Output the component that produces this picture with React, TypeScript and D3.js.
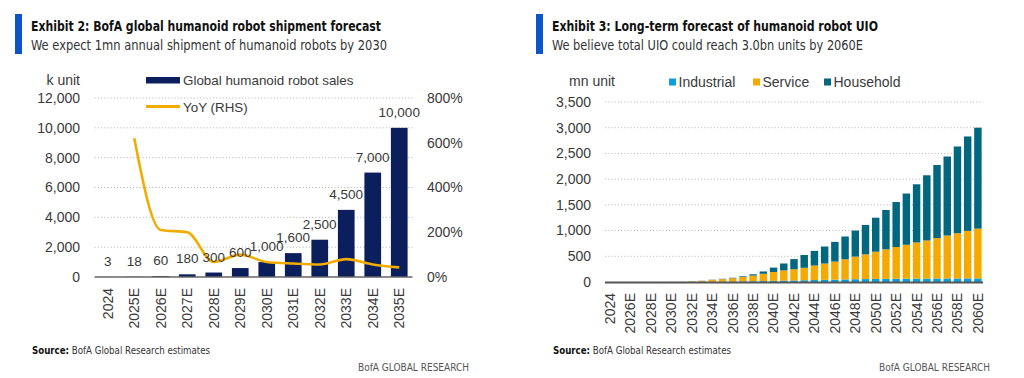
import React from 'react';
import * as d3 from 'd3';

// ---------- Left chart data ----------
const shipCategories = ['2024', '2025E', '2026E', '2027E', '2028E', '2029E', '2030E', '2031E', '2032E', '2033E', '2034E', '2035E'];
const shipmentValues = [3, 18, 60, 180, 300, 600, 1000, 1600, 2500, 4500, 7000, 10000];
const yoyValues: (number | null)[] = [null, 620, 210, 200, 67, 100, 67, 60, 56, 80, 56, 43];
const leftTicks = [0, 2000, 4000, 6000, 8000, 10000, 12000];
const rightTicks = [0, 200, 400, 600, 800];

// ---------- Right chart data ----------
const uioYears = ['2024', '2025E', '2026E', '2027E', '2028E', '2029E', '2030E', '2031E', '2032E', '2033E', '2034E', '2035E', '2036E', '2037E', '2038E', '2039E', '2040E', '2041E', '2042E', '2043E', '2044E', '2045E', '2046E', '2047E', '2048E', '2049E', '2050E', '2051E', '2052E', '2053E', '2054E', '2055E', '2056E', '2057E', '2058E', '2059E', '2060E'];
const industrial = [0, 0, 0, 0.1, 0.2, 0.4, 0.7, 1.2, 2, 3, 5, 7, 9, 12, 15, 18, 22, 26, 30, 34, 38, 42, 46, 50, 54, 57, 60, 62, 64, 65, 66, 67, 68, 68, 69, 70, 70];
const service = [0, 0, 0, 0.2, 0.4, 0.8, 1.4, 2.5, 9, 20, 36, 49, 64, 84, 110, 142, 173, 199, 218, 242, 282, 317, 351, 392, 440, 481, 530, 573, 616, 659, 703, 741, 785, 836, 880, 924, 968];
const household = [0, 0, 0, 0, 0, 0, 0.1, 0.3, 1, 2, 4, 6, 9, 14, 25, 45, 85, 135, 197, 249, 285, 331, 383, 443, 506, 572, 660, 765, 875, 996, 1131, 1267, 1422, 1536, 1686, 1836, 1962];
const uioTicks = [0, 500, 1000, 1500, 2000, 2500, 3000, 3500];
const uioSeriesNames = ['Industrial', 'Service', 'Household'];

const NAVY = '#0B1F5C';
const GOLD = '#F2AC00';
const C_IND = '#0A9FDB';
const C_SVC = '#F4AA00';
const C_HH = '#00677F';
const BLUE_BAR = '#0B55C8';
const GRID = '#BDBDBD';
const TXT = '#3A3A3A';
const FR = "'Liberation Sans', Arial, sans-serif";
const FN = "'Liberation Sans Narrow', 'DejaVu Sans Condensed', sans-serif";

const fmt = d3.format(',');

function Header({ x, title, subtitle, tw, sw }: { x: number; title: string; subtitle: string; tw: number; sw: number }) {
  return (
    <g>
      <rect x={x} y={14} width={7} height={40} fill={BLUE_BAR} />
      <text x={x + 16} y={31} fontFamily={FN} fontWeight="bold" fontSize={13.5} fill="#111" textLength={tw} lengthAdjust="spacingAndGlyphs">{title}</text>
      <text x={x + 16} y={50} fontFamily={FN} fontSize={14.5} fill="#333" textLength={sw} lengthAdjust="spacingAndGlyphs">{subtitle}</text>
    </g>
  );
}

function Footer({ x, right }: { x: number; right: number }) {
  return (
    <g fontFamily={FN} fontSize={10.5}>
      <text x={x} y={354} fill="#111" textLength={178} lengthAdjust="spacingAndGlyphs">
        <tspan fontWeight="bold">Source:</tspan>
        <tspan fill="#333"> BofA Global Research estimates</tspan>
      </text>
      <text x={right} y={371} textAnchor="end" fill="#555" textLength={111} lengthAdjust="spacingAndGlyphs">BofA GLOBAL RESEARCH</text>
    </g>
  );
}

function LeftChart() {
  const x = d3.scaleBand<string>().domain(shipCategories).range([94.5, 412.5]).paddingInner(0.37).paddingOuter(0.185);
  const y = d3.scaleLinear().domain([0, 12000]).range([277, 98]);
  const y2 = d3.scaleLinear().domain([0, 800]).range([277, 98]);
  const pts = shipCategories.map((c, i) => ({ c, v: yoyValues[i] })).filter((d) => d.v !== null) as { c: string; v: number }[];
  const line = d3.line<{ c: string; v: number }>()
    .x((d) => (x(d.c) as number) + x.bandwidth() / 2)
    .y((d) => y2(d.v))
    .curve(d3.curveMonotoneX);
  return (
    <g>
      <Header x={15} tw={350} sw={356} title="Exhibit 2: BofA global humanoid robot shipment forecast" subtitle="We expect 1mn annual shipment of humanoid robots by 2030" />
      {leftTicks.filter((t) => t > 0).map((t) => (
        <line key={t} x1={94.5} x2={412.5} y1={y(t)} y2={y(t)} stroke={GRID} strokeDasharray="1.2 2" strokeWidth={1} />
      ))}
      {shipCategories.map((c, i) => (
        <rect key={c} x={x(c)} y={y(shipmentValues[i])} width={x.bandwidth()} height={277 - y(shipmentValues[i])} fill={NAVY} />
      ))}
      <line x1={94.5} x2={412.5} y1={277} y2={277} stroke="#666" strokeWidth={1.5} />
      <path d={line(pts) || ''} fill="none" stroke={GOLD} strokeWidth={2.6} />
      <g fontFamily={FR} fontSize={14} fill={TXT}>
        {shipCategories.map((c, i) => (
          <text key={c} x={(x(c) as number) + x.bandwidth() / 2} y={y(shipmentValues[i]) - 11} textAnchor="middle" fontSize={13.5}>{fmt(shipmentValues[i])}</text>
        ))}
        {leftTicks.map((t) => (
          <text key={t} x={80} y={y(t)} dy="0.35em" textAnchor="end">{fmt(t)}</text>
        ))}
        {rightTicks.map((t) => (
          <text key={t} x={427} y={y2(t)} dy="0.35em" textAnchor="start">{t}%</text>
        ))}
        {shipCategories.map((c) => (
          <text key={c} transform={`translate(${(x(c) as number) + x.bandwidth() / 2},288) rotate(-90)`} dy="0.35em" textAnchor="end">{c}</text>
        ))}
        <text x={80} y={80} dy="0.35em" textAnchor="end">k unit</text>
        <rect x={146} y={77} width={34} height={6.5} fill={NAVY} />
        <text x={183} y={80} dy="0.35em" fontSize={13.4}>Global humanoid robot sales</text>
        <line x1={146} x2={180} y1={106.5} y2={106.5} stroke={GOLD} strokeWidth={3} />
        <text x={183} y={107} dy="0.35em" fontSize={13.4}>YoY (RHS)</text>
      </g>
      <Footer x={32} right={469} />
    </g>
  );
}

function RightChart() {
  const x = d3.scaleBand<string>().domain(uioYears).range([605, 983]).paddingInner(0.27).paddingOuter(0.135);
  const y = d3.scaleLinear().domain([0, 3500]).range([282, 102]);
  const rows = uioYears.map((yr, i) => ({ yr, Industrial: industrial[i], Service: service[i], Household: household[i] }));
  const stack = d3.stack<any>().keys(uioSeriesNames)(rows);
  const colors: Record<string, string> = { Industrial: C_IND, Service: C_SVC, Household: C_HH };
  const legendX = [669, 753, 824];
  return (
    <g>
      <Header x={536} tw={326} sw={311} title="Exhibit 3: Long-term forecast of humanoid robot UIO" subtitle="We believe total UIO could reach 3.0bn units by 2060E" />
      {uioTicks.filter((t) => t > 0).map((t) => (
        <line key={t} x1={605} x2={983} y1={y(t)} y2={y(t)} stroke={GRID} strokeDasharray="1.2 2" strokeWidth={1} />
      ))}
      {stack.map((s) => (
        <g key={s.key} fill={colors[s.key]}>
          {s.map((d, i) => (
            <rect key={i} x={x(uioYears[i])} y={y(d[1])} width={x.bandwidth()} height={Math.max(0, y(d[0]) - y(d[1]))} />
          ))}
        </g>
      ))}
      <line x1={605} x2={983} y1={282.5} y2={282.5} stroke="#555" strokeWidth={2} />
      <g fontFamily={FR} fontSize={14} fill={TXT}>
        {uioTicks.map((t) => (
          <text key={t} x={591} y={y(t)} dy="0.35em" textAnchor="end">{fmt(t)}</text>
        ))}
        {uioYears.filter((_, i) => i % 2 === 0).map((c) => (
          <text key={c} transform={`translate(${(x(c) as number) + x.bandwidth() / 2},293) rotate(-90)`} dy="0.35em" textAnchor="end">{c}</text>
        ))}
        <text x={615} y={81} dy="0.35em" textAnchor="end">mn unit</text>
        {uioSeriesNames.map((n, i) => (
          <g key={n}>
            <rect x={legendX[i]} y={78.5} width={7} height={7} fill={colors[n]} />
            <text x={legendX[i] + 9.5} y={82} dy="0.35em">{n}</text>
          </g>
        ))}
      </g>
      <Footer x={553} right={990} />
    </g>
  );
}

export default function App() {
  return (
    <svg width={1024} height={378} style={{ position: 'absolute', left: 0, top: 0, background: '#fff' }}>
      <rect width={1024} height={378} fill="#fff" />
      <LeftChart />
      <RightChart />
    </svg>
  );
}
